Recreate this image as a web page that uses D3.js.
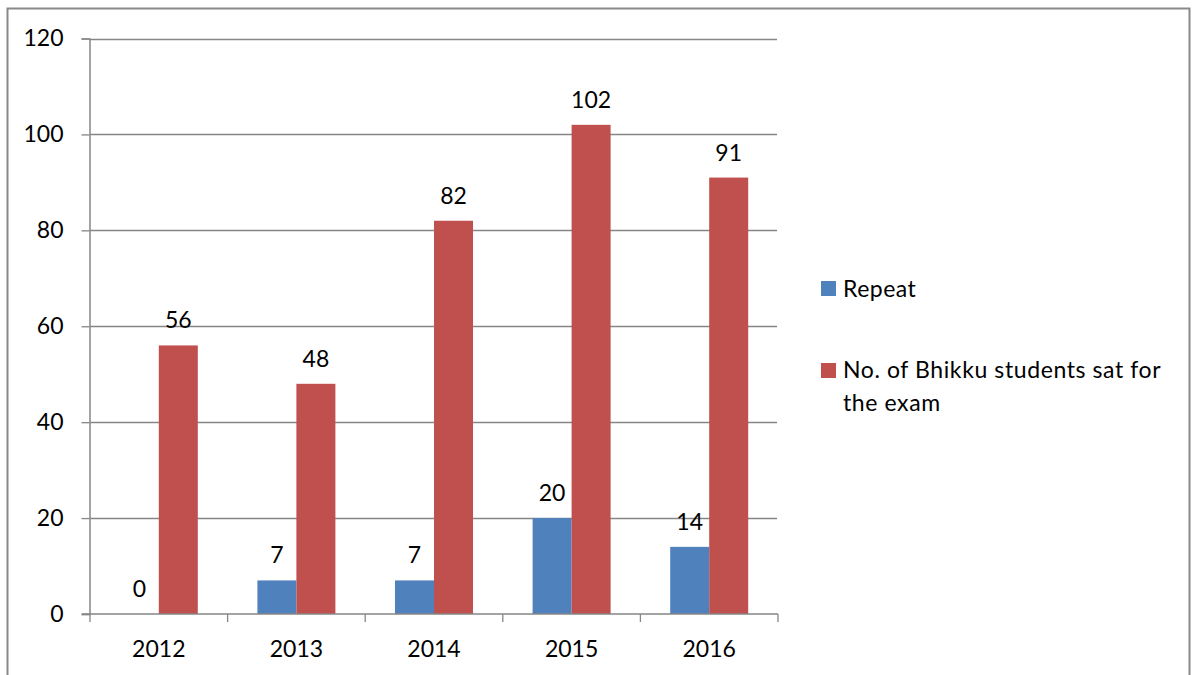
<!DOCTYPE html>
<html><head><meta charset="utf-8">
<script src="https://cdn.jsdelivr.net/npm/d3@7"></script>
<style>body{margin:0;background:#fff}svg{display:block}text{font-family:Lato,"Open Sans",sans-serif;fill:#000}</style>
</head><body>
<svg id="c" width="1195" height="675"></svg>
<script>
const years = ["2012","2013","2014","2015","2016"];
const repeatVals = [0,7,7,20,14];
const satVals = [56,48,82,102,91];
const seriesNames = ["Repeat","No. of Bhikku students sat for the exam"];
const seriesColors = ["#4F81BD","#C0504D"];
const yTicks = [0,20,40,60,80,100,120];

const svg = d3.select("#c");
const fs = 23;
// outer frame
svg.append("rect").attr("x",7.5).attr("y",8.5).attr("width",1182).attr("height",720)
  .attr("fill","none").attr("stroke","#898989").attr("stroke-width",2);

const L=90, R=778, T=38.5, B=614;
const x = d3.scaleBand().domain(years).range([L,R]).paddingInner(0).paddingOuter(0);
const y = d3.scaleLinear().domain([0,120]).range([B,T]);

// gridlines
svg.append("g").selectAll("line").data(yTicks.filter(d=>d>0)).join("line")
  .attr("x1",L).attr("x2",R-1).attr("y1",d=>Math.round(y(d))+0.5).attr("y2",d=>Math.round(y(d))+0.5)
  .attr("stroke","#868686").attr("stroke-width",1.3);

// y axis
const yAxis = d3.axisLeft(y).tickValues(yTicks).tickSize(8).tickPadding(18);
const gy = svg.append("g").attr("transform",`translate(${L-0.5},0)`).call(yAxis);
gy.select(".domain").attr("stroke","#868686").attr("stroke-width",1.5);
gy.selectAll(".tick line").attr("stroke","#868686").attr("stroke-width",1.3);
gy.selectAll("text").attr("font-size",fs).attr("font-family","Lato").attr("fill","#000");

// bars
const bw = 39;
const groups = years.map((yr,i)=>({yr, vals:[repeatVals[i],satVals[i]]}));
const gb = svg.append("g");
groups.forEach(g=>{
  const cx = x(g.yr)+x.bandwidth()/2;
  g.vals.forEach((v,j)=>{
    const bx = cx + (j===0?-bw:0);
    gb.append("rect").attr("x",bx).attr("y",y(v)).attr("width",bw).attr("height",B-y(v))
      .attr("fill",seriesColors[j]);
    gb.append("text").attr("x",bx+bw/2).attr("y",y(v)-17).attr("text-anchor","middle")
      .attr("font-size",fs).text(v);
  });
});

// x axis
const gx = svg.append("g").attr("transform",`translate(0,${B})`);
gx.append("line").attr("x1",L-8).attr("x2",R).attr("y1",0).attr("y2",0).attr("stroke","#868686").attr("stroke-width",1.5);
const bounds = years.map(d=>x(d)).concat([x(years[years.length-1])+x.bandwidth()]);
gx.selectAll("line.t").data(bounds).join("line").attr("class","t")
  .attr("x1",d=>d).attr("x2",d=>d).attr("y1",0).attr("y2",8).attr("stroke","#868686").attr("stroke-width",1.3);
gx.selectAll("text").data(years).join("text").attr("x",d=>x(d)+x.bandwidth()/2).attr("y",43)
  .attr("text-anchor","middle").attr("font-size",fs).text(d=>d);

// legend
const lg = svg.append("g");
lg.append("rect").attr("x",821).attr("y",281).attr("width",15).attr("height",15).attr("fill",seriesColors[0]);
lg.append("text").attr("x",843).attr("y",297).attr("font-size",fs).attr("letter-spacing",0.5).text(seriesNames[0]);
lg.append("rect").attr("x",821).attr("y",363).attr("width",15).attr("height",15).attr("fill",seriesColors[1]);
lg.append("text").attr("x",843).attr("y",378).attr("font-size",fs).attr("letter-spacing",0.6).text("No. of Bhikku students sat for");
lg.append("text").attr("x",843).attr("y",411).attr("font-size",fs).attr("letter-spacing",0.6).text("the exam");
</script>
</body></html>
